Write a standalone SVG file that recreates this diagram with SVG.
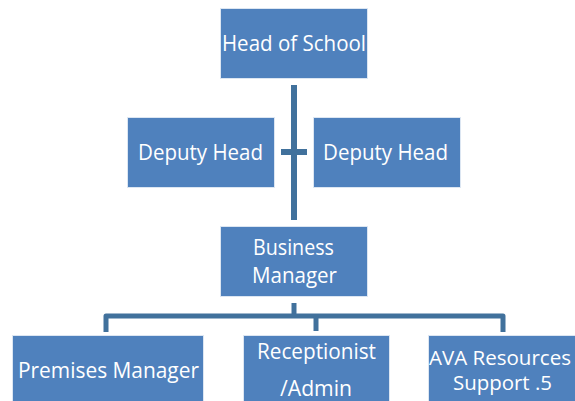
<svg xmlns="http://www.w3.org/2000/svg" width="575" height="401" viewBox="0 0 575 401">
  <style>
    .box { fill: #4F81BD; stroke: #DCE6F2; stroke-width: 1; }
    .lbl { fill: #FFFFFF; font-family: "Open Sans", "Liberation Sans", sans-serif; font-size: 21px; text-anchor: middle; }
    .tight { font-size: 20px; }
    .conn { fill: none; stroke: #41719C; stroke-linejoin: round; }
  </style>
  <rect width="575" height="401" fill="#FFFFFF"/>

  <!-- connectors -->
  <g id="connectors">
    <line class="conn" x1="294" y1="85" x2="294" y2="220" stroke-width="6"/>
    <line class="conn" x1="281" y1="152" x2="307" y2="152" stroke-width="6"/>
    <path class="conn" d="M294,303 V316" stroke-width="5"/>
    <path class="conn" d="M106,332 V316 H503 V332" stroke-width="5" stroke-linecap="butt"/>
    <path class="conn" d="M316,316 V331" stroke-width="5"/>
  </g>

  <g id="head-of-school">
    <rect class="box" x="220.5" y="8.5" width="147" height="70"/>
    <text class="lbl" x="294" y="51" textLength="144" lengthAdjust="spacingAndGlyphs">Head of School</text>
  </g>

  <g id="deputy-head-left">
    <rect class="box" x="127.5" y="117.5" width="147" height="70"/>
    <text class="lbl" x="200.5" y="160" textLength="125" lengthAdjust="spacingAndGlyphs">Deputy Head</text>
  </g>

  <g id="deputy-head-right">
    <rect class="box" x="313.5" y="117.5" width="147" height="70"/>
    <text class="lbl" x="385.5" y="160" textLength="125" lengthAdjust="spacingAndGlyphs">Deputy Head</text>
  </g>

  <g id="business-manager">
    <rect class="box" x="220.5" y="226.5" width="147" height="70"/>
    <text class="lbl" x="293.5" y="255" textLength="81" lengthAdjust="spacingAndGlyphs">Business</text>
    <text class="lbl" x="294.5" y="283" textLength="85" lengthAdjust="spacingAndGlyphs">Manager</text>
  </g>

  <g id="premises-manager">
    <rect class="box" x="12.5" y="335.5" width="191" height="72"/>
    <text class="lbl" x="108.5" y="378" textLength="181" lengthAdjust="spacingAndGlyphs">Premises Manager</text>
  </g>

  <g id="receptionist-admin">
    <rect class="box" x="243.5" y="335.5" width="146" height="72"/>
    <text class="lbl" x="316.5" y="359" textLength="119" lengthAdjust="spacingAndGlyphs">Receptionist</text>
    <text class="lbl" x="316" y="396" textLength="72" lengthAdjust="spacingAndGlyphs">/Admin</text>
  </g>

  <g id="ava-resources-support">
    <rect class="box" x="428.5" y="335.5" width="150" height="72"/>
    <text class="lbl tight" x="500" y="365" textLength="142" lengthAdjust="spacingAndGlyphs">AVA Resources</text>
    <text class="lbl tight" x="502.5" y="390" textLength="99" lengthAdjust="spacingAndGlyphs">Support .5</text>
  </g>
</svg>
